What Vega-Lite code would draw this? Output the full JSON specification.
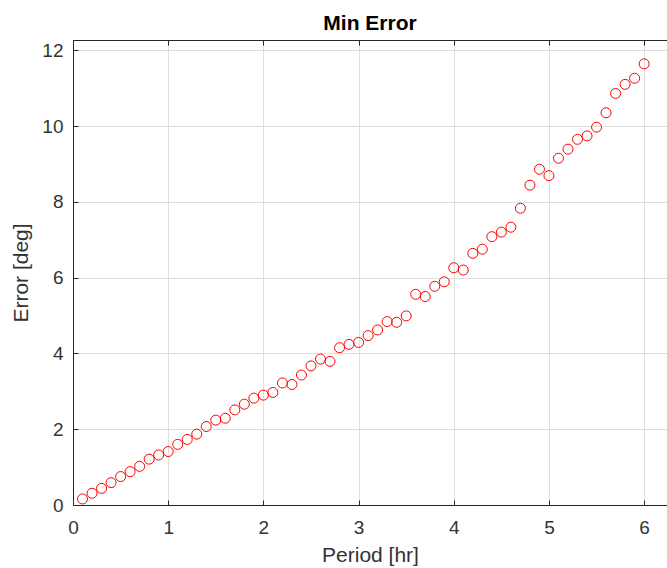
{
  "$schema": "https://vega.github.io/schema/vega-lite/v6.json",
  "width": 594,
  "height": 465,
  "autosize": {"type": "none"},
  "padding": {"left": 73, "top": 40, "right": 0, "bottom": 63},
  "background": "white",
  "title": {"text": "Min Error", "fontSize": 21, "font": "Liberation Sans", "fontWeight": "bold", "color": "#000000", "offset": 6, "anchor": "middle"},
  "config": {
    "view": {"stroke": null},
    "font": "Liberation Sans",
    "axis": {
      "labelFont": "Liberation Sans",
      "titleFont": "Liberation Sans",
      "labelFontSize": 19,
      "titleFontSize": 21,
      "titleFontWeight": "normal",
      "labelColor": "#333333",
      "titleColor": "#333333",
      "labelFlush": false,
      "domainColor": "#262626",
      "domainWidth": 1,
      "tickColor": "#262626",
      "tickSize": -5,
      "gridColor": "#dedede",
      "gridWidth": 1
    }
  },
  "data": {"values": [
    {"period": 0.1, "error": 0.16}, {"period": 0.2, "error": 0.31}, {"period": 0.3, "error": 0.44},
    {"period": 0.4, "error": 0.59}, {"period": 0.5, "error": 0.75}, {"period": 0.6, "error": 0.88},
    {"period": 0.7, "error": 1.02}, {"period": 0.8, "error": 1.21}, {"period": 0.9, "error": 1.32},
    {"period": 1.0, "error": 1.41}, {"period": 1.1, "error": 1.60}, {"period": 1.2, "error": 1.73},
    {"period": 1.3, "error": 1.87}, {"period": 1.4, "error": 2.07}, {"period": 1.5, "error": 2.24},
    {"period": 1.6, "error": 2.29}, {"period": 1.7, "error": 2.51}, {"period": 1.8, "error": 2.66},
    {"period": 1.9, "error": 2.82}, {"period": 2.0, "error": 2.90}, {"period": 2.1, "error": 2.97},
    {"period": 2.2, "error": 3.22}, {"period": 2.3, "error": 3.18}, {"period": 2.4, "error": 3.43},
    {"period": 2.5, "error": 3.67}, {"period": 2.6, "error": 3.85}, {"period": 2.7, "error": 3.79},
    {"period": 2.8, "error": 4.15}, {"period": 2.9, "error": 4.24}, {"period": 3.0, "error": 4.29},
    {"period": 3.1, "error": 4.47}, {"period": 3.2, "error": 4.62}, {"period": 3.3, "error": 4.84},
    {"period": 3.4, "error": 4.82}, {"period": 3.5, "error": 4.99}, {"period": 3.6, "error": 5.56},
    {"period": 3.7, "error": 5.50}, {"period": 3.8, "error": 5.77}, {"period": 3.9, "error": 5.89},
    {"period": 4.0, "error": 6.26}, {"period": 4.1, "error": 6.20}, {"period": 4.2, "error": 6.64},
    {"period": 4.3, "error": 6.75}, {"period": 4.4, "error": 7.08}, {"period": 4.5, "error": 7.20},
    {"period": 4.6, "error": 7.33}, {"period": 4.7, "error": 7.83}, {"period": 4.8, "error": 8.44},
    {"period": 4.9, "error": 8.86}, {"period": 5.0, "error": 8.69}, {"period": 5.1, "error": 9.15},
    {"period": 5.2, "error": 9.39}, {"period": 5.3, "error": 9.65}, {"period": 5.4, "error": 9.74},
    {"period": 5.5, "error": 9.97}, {"period": 5.6, "error": 10.35}, {"period": 5.7, "error": 10.86},
    {"period": 5.8, "error": 11.10}, {"period": 5.9, "error": 11.26}, {"period": 6.0, "error": 11.64}
  ]},
  "layer": [
    {
      "mark": {"type": "point", "shape": "circle", "filled": false, "color": "#ff0000", "size": 100, "strokeWidth": 1, "opacity": 1},
      "encoding": {
        "x": {
          "field": "period", "type": "quantitative",
          "scale": {"domain": [0, 6.24], "nice": false, "zero": false},
          "axis": {"orient": "bottom", "values": [0, 1, 2, 3, 4, 5, 6], "title": "Period [hr]", "labelPadding": 18, "titlePadding": 7, "grid": true}
        },
        "y": {
          "field": "error", "type": "quantitative",
          "scale": {"domain": [0, 12.27], "nice": false, "zero": false},
          "axis": {"orient": "left", "values": [0, 2, 4, 6, 8, 10, 12], "title": "Error [deg]", "labelPadding": 15, "titlePadding": 10, "grid": true}
        }
      }
    },
    {
      "mark": {"type": "point", "opacity": 0},
      "encoding": {
        "x": {
          "field": "period", "type": "quantitative",
          "axis": {"orient": "top", "values": [0, 1, 2, 3, 4, 5, 6], "labels": false, "title": null, "grid": false}
        }
      }
    }
  ],
  "resolve": {"axis": {"x": "independent"}}
}
